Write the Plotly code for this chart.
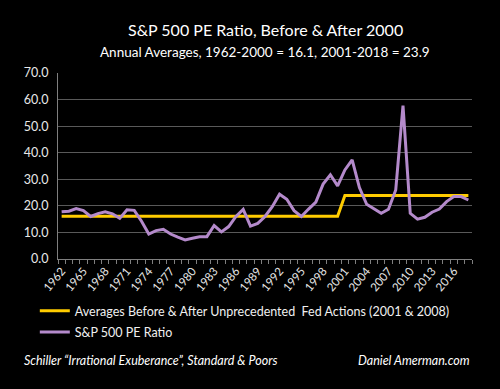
import plotly.graph_objects as go

years = list(range(1962, 2019))
pe_ratio = [17.8, 18.0, 19.0, 18.2, 16.0, 17.1, 17.8, 17.0, 15.3, 18.5,
            18.3, 14.2, 9.4, 10.7, 11.2, 9.4, 8.2, 7.2, 7.8, 8.4,
            8.4, 12.6, 10.2, 12.2, 16.0, 18.7, 12.4, 13.4, 16.0, 19.7,
            24.4, 22.5, 18.2, 16.0, 18.8, 21.4, 28.2, 31.7, 27.5, 33.5,
            37.3, 26.9, 20.6, 19.0, 17.2, 18.7, 26.0, 57.7, 17.2, 15.0,
            15.7, 17.6, 18.8, 21.6, 23.5, 23.5, 22.2]
avg_before = 16.1
avg_after = 23.9
averages = [avg_before if y <= 2000 else avg_after for y in years]
tick_years = list(range(1962, 2019, 3))

title_text = "S&P 500 PE Ratio, Before & After 2000"
subtitle_text = "Annual Averages, 1962-2000 = 16.1, 2001-2018 = 23.9"
legend_avg = "Averages Before & After Unprecedented  Fed Actions (2001 & 2008)"
legend_pe = "S&P 500 PE Ratio"
source_text = "Schiller “Irrational Exuberance”, Standard & Poors"
credit_text = "Daniel Amerman.com"

FONT = "Lato"
fig = go.Figure()
fig.add_trace(go.Scatter(x=years, y=averages, mode="lines", name=legend_avg,
                         legendgroup="a",
                         line=dict(color="#FFCC00", width=3)))
fig.add_trace(go.Scatter(x=years, y=pe_ratio, mode="lines", name=legend_pe,
                         legendgroup="b",
                         line=dict(color="#B48ACB", width=3)))

fig.update_layout(
    width=500, height=389,
    paper_bgcolor="black", plot_bgcolor="black",
    margin=dict(l=58, r=28, t=73, b=130),
    font=dict(family=FONT, color="#e8e8e8", size=12),
    showlegend=True,
    legend=dict(x=-0.056, y=-0.2, xanchor="left", yanchor="top",
                font=dict(family=FONT, size=12.5, color="#f0f0f0"),
                bgcolor="rgba(0,0,0,0)", tracegroupgap=2, itemwidth=30),
    annotations=[
        dict(text=title_text, xref="paper", yref="paper", x=0.5, y=1,
             xanchor="center", yanchor="middle", showarrow=False,
             yshift=44, font=dict(family=FONT, size=16, color="white")),
        dict(text=subtitle_text, xref="paper", yref="paper", x=0.5, y=1,
             xanchor="center", yanchor="middle", showarrow=False,
             yshift=21, font=dict(family=FONT, size=13.5, color="white")),
        dict(text="<i>" + source_text + "</i>", xref="paper", yref="paper",
             x=-0.087, y=0, xanchor="left", yanchor="middle", showarrow=False,
             yshift=-101, font=dict(family=FONT, size=12.5, color="white")),
        dict(text="<i>" + credit_text + "</i>", xref="paper", yref="paper",
             x=1, y=0, xanchor="right", yanchor="middle", showarrow=False,
             yshift=-101, font=dict(family=FONT, size=12.5, color="white")),
    ],
)
fig.update_xaxes(range=[1961.5, 2018.5], tickmode="array", tickvals=tick_years,
                 ticktext=[str(y) for y in tick_years], tickangle=-50,
                 ticks="", showgrid=False, zeroline=False,
                 showline=True, linecolor="#7f7f7f", linewidth=1,
                 tickfont=dict(family=FONT, size=11.5, color="#e8e8e8"),
                 minor=dict(ticks="outside", tick0=1961.5, dtick=1, ticklen=4,
                            tickcolor="#7f7f7f", showgrid=False))
fig.update_yaxes(range=[0, 70], dtick=10, tickformat=".1f",
                 showgrid=True, gridcolor="#595959", gridwidth=1,
                 zeroline=False, showline=True, linecolor="#7f7f7f",
                 ticks="", ticklabelstandoff=6,
                 tickfont=dict(family=FONT, size=12.5, color="#e8e8e8"))

fig.write_html("out.html",
               config={"displayModeBar": False},
               post_script="document.body.style.margin='0';"
                           "document.body.style.background='black';")
